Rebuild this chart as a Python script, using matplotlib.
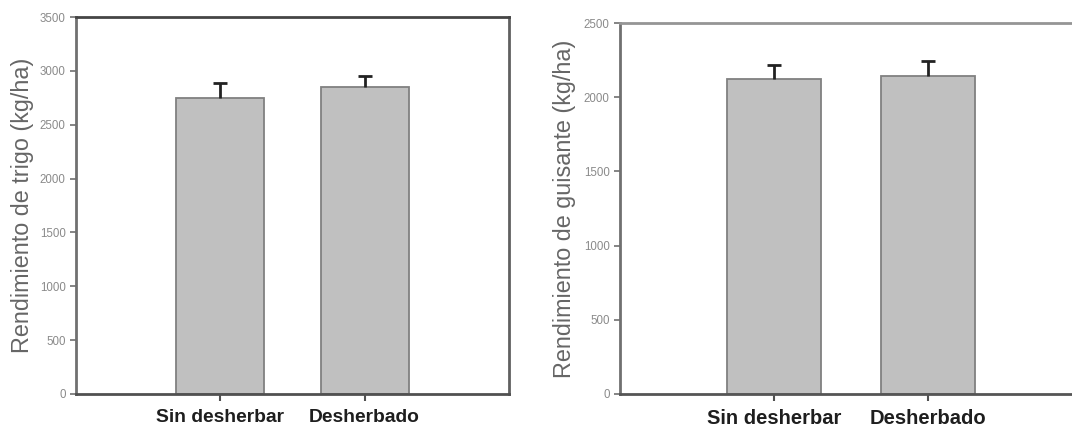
import matplotlib
matplotlib.use("Agg")
import matplotlib.pyplot as plt
from matplotlib.transforms import ScaledTranslation

plt.rcParams['font.family'] = ['Liberation Sans', 'DejaVu Sans']

categories = ["Sin desherbar", "Desherbado"]
trigo_vals = [2750, 2850]
trigo_err = [140, 100]
guisante_vals = [2120, 2140]
guisante_err = [95, 105]

trigo_ticks = [0, 500, 1000, 1500, 2000, 2500, 3000, 3500]
guisante_ticks = [0, 500, 1000, 1500, 2000, 2500]

W, H = 1072, 430
fig = plt.figure(figsize=(W / 100, H / 100), dpi=100)
# panel boxes in pixels: left, bottom (from top), width, height
ax1 = fig.add_axes([76 / W, 1 - 394 / H, 433 / W, 377 / H])
ax2 = fig.add_axes([620 / W, 1 - 394 / H, 462 / W, 371 / H])

bar_col = "#c0c0c0"
edge_col = "#808080"


def draw(ax, vals, errs, ticks, ylabel, xfs, label_shift, spine_cols, show_right):
    x = [1, 2]
    ax.bar(x, vals, width=0.61, color=bar_col, edgecolor=edge_col, linewidth=1.3, zorder=2)
    eb = ax.errorbar(x, vals, yerr=[[0, 0], errs], fmt='none', ecolor="#222222",
                     elinewidth=2.0, capsize=4.7, capthick=2.0, zorder=3)
    # only the upper cap is drawn
    eb[1][0].set_visible(False)
    ax.set_xlim(0, 3)
    ax.set_ylim(ticks[0], ticks[-1])
    ax.set_yticks(ticks)
    ax.set_yticklabels([str(t) for t in ticks], fontsize=8.3, color="#8a8a8a")
    ax.set_xticks(x)
    ax.set_xticklabels(categories, fontsize=xfs, fontweight='bold', color="#1e1e1e")
    for lab, dx in zip(ax.get_xticklabels(), label_shift):
        lab.set_transform(lab.get_transform() + ScaledTranslation(dx / 100, 0, fig.dpi_scale_trans))
    ax.tick_params(axis='y', direction='out', length=4.5, width=1.2, color="#707070", pad=3)
    ax.tick_params(axis='x', direction='out', length=5, width=1.5, color="#505050", pad=6)
    for name, col in spine_cols.items():
        ax.spines[name].set_color(col)
        ax.spines[name].set_linewidth(2.0)
    ax.spines['right'].set_visible(show_right)
    ax.set_ylabel(ylabel, fontsize=16.8, color="#666666")
    ax.yaxis.set_label_coords(-0.096, 0.5)


draw(ax1, trigo_vals, trigo_err, trigo_ticks, "Rendimiento de trigo (kg/ha)", 13.9,
     [-7, 19], {'left': '#707070', 'top': '#454545', 'right': '#606060', 'bottom': '#505050'}, True)
draw(ax2, guisante_vals, guisante_err, guisante_ticks, "Rendimiento de guisante (kg/ha)", 14.5,
     [12, 4], {'left': '#707070', 'top': '#959595', 'right': '#959595', 'bottom': '#555555'}, False)

fig.savefig("out.png", dpi=100)
